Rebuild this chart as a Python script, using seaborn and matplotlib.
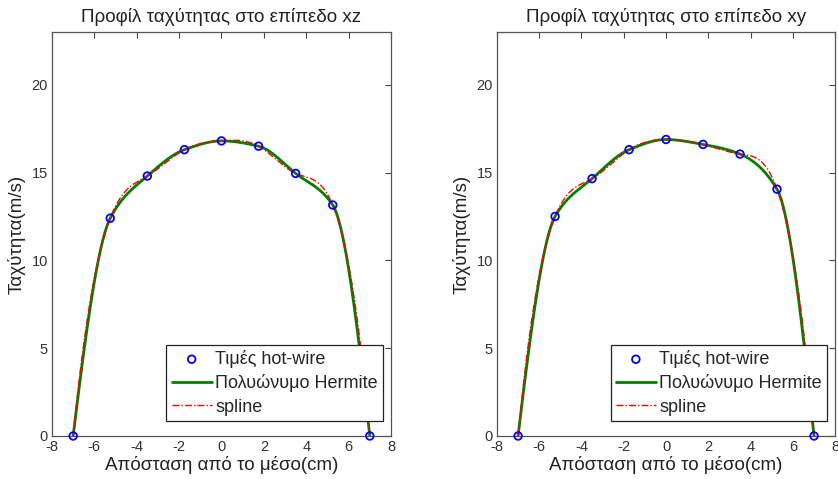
import numpy as np
import pandas as pd
import matplotlib
matplotlib.use("Agg")
import matplotlib.pyplot as plt
import seaborn as sns

# ---- data ----
positions = [-7.0, -5.25, -3.5, -1.75, 0.0, 1.75, 3.5, 5.25, 7.0]
speed_xz = [0.0, 12.4, 14.8, 16.3, 16.8, 16.5, 14.95, 13.15, 0.0]
speed_xy = [0.0, 12.5, 14.65, 16.3, 16.88, 16.6, 16.05, 14.05, 0.0]
titles = ["Προφίλ ταχύτητας στο επίπεδο xz", "Προφίλ ταχύτητας στο επίπεδο xy"]
x_ticks = [-8, -6, -4, -2, 0, 2, 4, 6, 8]
y_ticks = [0, 5, 10, 15, 20]
legend_labels = ["Τιμές hot-wire", "Πολυώνυμο Hermite", "spline"]


def pchip_slopes(x, y):
    h = np.diff(x)
    d = np.diff(y) / h
    n = len(x)
    s = np.zeros(n)
    for k in range(1, n - 1):
        if d[k - 1] * d[k] > 0:
            w1 = 2 * h[k] + h[k - 1]
            w2 = h[k] + 2 * h[k - 1]
            s[k] = (w1 + w2) / (w1 / d[k - 1] + w2 / d[k])
    def end(h0, h1, d0, d1):
        v = ((2 * h0 + h1) * d0 - h0 * d1) / (h0 + h1)
        if np.sign(v) != np.sign(d0):
            v = 0.0
        elif np.sign(d0) != np.sign(d1) and abs(v) > abs(3 * d0):
            v = 3 * d0
        return v
    s[0] = end(h[0], h[1], d[0], d[1])
    s[-1] = end(h[-1], h[-2], d[-1], d[-2])
    return s


def hermite_eval(x, y, s, xq):
    idx = np.clip(np.searchsorted(x, xq) - 1, 0, len(x) - 2)
    h = x[idx + 1] - x[idx]
    t = (xq - x[idx]) / h
    h00 = 2 * t**3 - 3 * t**2 + 1
    h10 = t**3 - 2 * t**2 + t
    h01 = -2 * t**3 + 3 * t**2
    h11 = t**3 - t**2
    return h00 * y[idx] + h10 * h * s[idx] + h01 * y[idx + 1] + h11 * h * s[idx + 1]


def spline_notaknot(x, y, xq):
    n = len(x)
    h = np.diff(x)
    d = np.diff(y) / h
    A = np.zeros((n, n))
    b = np.zeros(n)
    A[0, 0], A[0, 1], A[0, 2] = h[1], -(h[0] + h[1]), h[0]
    for i in range(1, n - 1):
        A[i, i - 1] = h[i - 1]
        A[i, i] = 2 * (h[i - 1] + h[i])
        A[i, i + 1] = h[i]
        b[i] = 6 * (d[i] - d[i - 1])
    A[-1, -3], A[-1, -2], A[-1, -1] = h[-1], -(h[-2] + h[-1]), h[-2]
    M = np.linalg.solve(A, b)
    idx = np.clip(np.searchsorted(x, xq) - 1, 0, n - 2)
    hh = h[idx]
    a = x[idx + 1] - xq
    c = xq - x[idx]
    return (M[idx] * a**3 / (6 * hh) + M[idx + 1] * c**3 / (6 * hh)
            + (y[idx] / hh - M[idx] * hh / 6) * a
            + (y[idx + 1] / hh - M[idx + 1] * hh / 6) * c)


sns.set_style("white")
plt.rcParams['font.family'] = ['Liberation Sans', 'DejaVu Sans']
plt.rcParams['axes.unicode_minus'] = False

fig = plt.figure(figsize=(8.38, 4.79), dpi=100)
ax_pos = [[0.062, 0.0898, 0.4046, 0.8434], [0.593, 0.0898, 0.4036, 0.8434]]

for k, speeds in enumerate([speed_xz, speed_xy]):
    ax = fig.add_axes(ax_pos[k])
    x = np.array(positions)
    y = np.array(speeds)
    xq = np.linspace(x[0], x[-1], 600)
    herm = hermite_eval(x, y, pchip_slopes(x, y), xq)
    spl = spline_notaknot(x, y, xq)
    df_pts = pd.DataFrame({"x": x, "y": y})
    df_h = pd.DataFrame({"x": xq, "y": herm})
    df_s = pd.DataFrame({"x": xq, "y": spl})

    sns.scatterplot(data=df_pts, x="x", y="y", ax=ax, marker="o", s=30,
                    facecolor="none", edgecolor="#0000ff", linewidth=1.3,
                    label=legend_labels[0], zorder=4, clip_on=False)
    sns.lineplot(data=df_h, x="x", y="y", ax=ax, color="#008000", lw=2.0,
                 label=legend_labels[1], sort=False, estimator=None, zorder=2)
    sns.lineplot(data=df_s, x="x", y="y", ax=ax, color="#ff0000", lw=1.0,
                 linestyle=(0, (5, 1.5, 1, 1.5)), label=legend_labels[2],
                 sort=False, estimator=None, zorder=3)

    ax.set_xlim(-8, 8)
    ax.set_ylim(0, 23)
    ax.set_xticks(x_ticks)
    ax.set_yticks(y_ticks)
    ax.tick_params(direction="in", top=True, right=True, length=4,
                   labelsize=10.5, colors="#444444", labelcolor="#333333", pad=3)
    for sp in ax.spines.values():
        sp.set_color("#555555")
        sp.set_linewidth(0.9)
    ax.set_title(titles[k], fontsize=13.5, pad=7, color="#222222")
    ax.set_xlabel("Απόσταση από το μέσο(cm)", fontsize=13.5, labelpad=1, color="#222222")
    ax.set_ylabel("Ταχύτητα(m/s)", fontsize=13.5, labelpad=4, color="#222222")

    leg = ax.legend(loc="lower right", bbox_to_anchor=(0.977, 0.037),
                    fontsize=13, frameon=True, fancybox=False,
                    edgecolor="#222222", framealpha=1, borderpad=0.3,
                    handlelength=2.2, handletextpad=0.2, labelspacing=0.35,
                    borderaxespad=0.0)
    leg.get_frame().set_linewidth(0.9)

fig.savefig("out.png", dpi=100)
